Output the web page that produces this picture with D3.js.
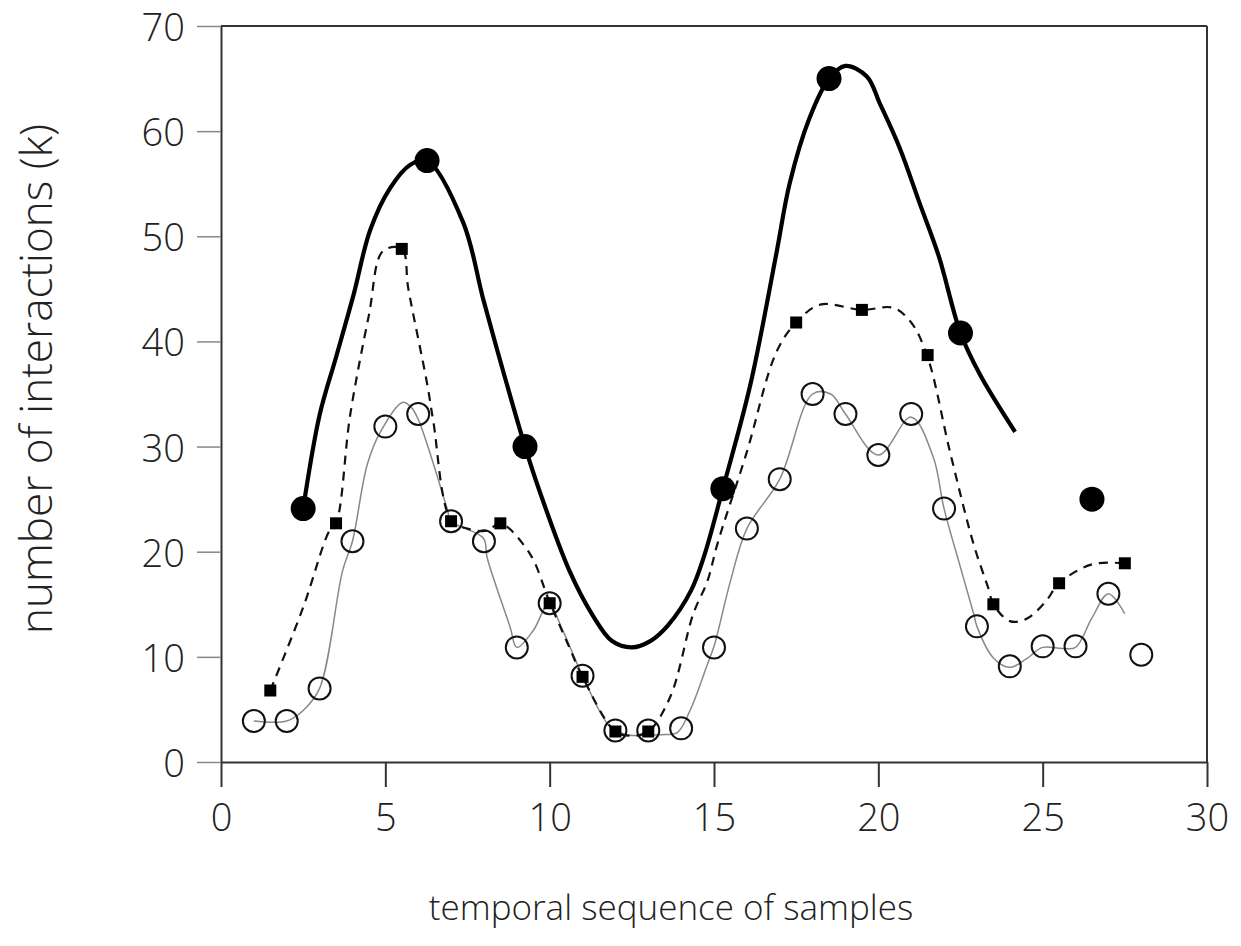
<!DOCTYPE html>
<html lang="en">
  <head>
    <meta charset="UTF-8" />
    <title>Interactions over samples</title>
    <script src="https://d3js.org/d3.v7.min.js"></script>
    <style>
      body {
        margin: 0;
        background: #fff;
        font-family: "Open Sans", "DejaVu Sans", sans-serif;
      }
      .axis text {
        font-family: "Open Sans", sans-serif;
        font-size: 38px;
        font-weight: 300;
        fill: #222;
      }
      .axis-title {
        font-family: "Open Sans", sans-serif;
        font-weight: 300;
        fill: #222;
      }
    </style>
  </head>
  <body>
    <svg id="chart" width="1241" height="946"></svg>

    <script>
      // ---------------------------------------------------------------
      // data
      // ---------------------------------------------------------------

      // open circles: one per sample
      const sampleX = d3.range(1, 29);
      const sampleY = [
        3.9, 3.9, 7.0, 21.0, 31.9, 33.1, 22.9, 21.0, 10.9, 15.1, 8.2, 3.0, 3.0, 3.2,
        10.9, 22.2, 26.9, 35.0, 33.1, 29.2, 33.1, 24.1, 12.9, 9.1, 11.0, 11.0, 16.0, 10.2,
      ];

      // thin grey line under the open circles
      const thinX = [1, 2, 2.5, 3, 3.7, 4, 4.45, 4.85, 5.52, 5.77, 6, 6.88, 7, 7.98, 8.1, 8.8, 9, 9.5, 9.97, 10.4, 11, 11.85, 12.35, 13.4, 13.88, 14.27, 14.8, 15, 15.5, 16, 17, 18, 18.55, 19, 20, 21, 21.67, 22, 22.5, 22.9, 23, 23.5, 24, 24.5, 25, 25.6, 26, 26.5, 27, 27.5];
      const thinY = [3.9, 3.9, 4.9, 7.0, 18.2, 21.0, 28.3, 31.4, 34.2, 33.8, 32.6, 24.1, 22.9, 21.3, 19.4, 12.8, 10.9, 12.5, 15.0, 12.5, 8.2, 3.3, 2.6, 2.6, 2.8, 4.9, 9.3, 11.0, 17.2, 22.2, 26.9, 35.0, 35.0, 33.1, 29.2, 32.8, 29.0, 24.1, 18.5, 14.1, 12.9, 9.9, 9.0, 9.8, 10.9, 10.8, 10.9, 13.7, 16.0, 14.1];

      // dashed line and its square markers
      const dashX = [1.5, 2.5, 3.3, 3.5, 3.93, 4.5, 4.93, 5.5, 5.7, 6.27, 6.46, 7, 7.5, 8.1, 8.5, 9.4, 9.9, 10, 10.6, 11, 12, 12.5, 13, 13.67, 14.37, 14.8, 15.1, 16, 16.9, 17.5, 18.23, 19.5, 20.45, 21, 21.5, 22.18, 22.9, 23.35, 23.5, 24, 24.5, 25.1, 25.5, 26.5, 27.5];
      const dashY = [6.8, 14.7, 22.0, 22.7, 33.0, 42.5, 48.6, 48.8, 45.0, 36.0, 32.4, 23.0, 22.2, 22.0, 22.7, 19.8, 16.0, 15.2, 10.9, 8.1, 2.9, 2.5, 2.9, 6.2, 14.1, 17.2, 20.7, 29.5, 39.0, 41.8, 43.5, 43.0, 43.2, 41.8, 38.5, 29.5, 20.7, 16.5, 15.0, 13.4, 13.6, 15.3, 17.0, 18.8, 18.9];
      const squareX = [1.5, 3.5, 5.5, 7, 8.5, 10, 11, 12, 13, 17.5, 19.5, 21.5, 23.5, 25.5, 27.5];
      const squareY = [6.8, 22.7, 48.8, 22.9, 22.7, 15.1, 8.1, 2.9, 2.9, 41.8, 43.0, 38.7, 15.0, 17.0, 18.9];

      // thick black line and its filled circles
      const boldX = [2.5, 3, 3.5, 4.03, 4.54, 5.15, 5.76, 6.27, 7.37, 7.98, 8.6, 9.25, 9.7, 10.6, 11.3, 11.9, 12.5, 13.06, 13.6, 14.3, 14.7, 15.27, 16.1, 16.9, 17.3, 17.9, 18.5, 19, 19.65, 20.05, 20.65, 21.25, 21.85, 22.5, 23.1, 24.16];
      const boldY = [24.1, 33.0, 38.5, 44.4, 50.6, 54.6, 56.8, 57.2, 51.3, 44.0, 37.0, 30.0, 25.7, 18.2, 14.0, 11.5, 10.9, 11.5, 13.0, 16.3, 19.6, 26.0, 35.8, 48.4, 55.0, 61.2, 65.0, 66.2, 65.2, 62.6, 58.4, 53.2, 48.0, 40.8, 36.8, 31.4];
      const dotX = [2.5, 6.27, 9.25, 15.27, 18.5, 22.5, 26.5];
      const dotY = [24.1, 57.2, 30.0, 26.0, 65.0, 40.8, 25.0];

      const xTicks = [0, 5, 10, 15, 20, 25, 30];
      const yTicks = [0, 10, 20, 30, 40, 50, 60, 70];

      // ---------------------------------------------------------------
      // layout
      // ---------------------------------------------------------------
      const svg = d3.select("#chart");
      const margin = { top: 26, right: 34, bottom: 184, left: 221 };
      const width = +svg.attr("width");
      const height = +svg.attr("height");
      const innerW = width - margin.left - margin.right;
      const innerH = height - margin.top - margin.bottom;

      const x = d3.scaleLinear().domain([0, 30]).range([0, innerW]);
      const y = d3.scaleLinear().domain([0, 70]).range([innerH, 0]);

      const g = svg
        .append("g")
        .attr("transform", `translate(${margin.left},${margin.top})`);

      const zip = (xs, ys) => xs.map((v, i) => [v, ys[i]]);

      // frame: top and right
      g.append("line")
        .attr("x1", 0).attr("x2", innerW)
        .attr("y1", 0).attr("y2", 0)
        .attr("stroke", "#333").attr("stroke-width", 2);
      g.append("line")
        .attr("x1", innerW).attr("x2", innerW)
        .attr("y1", 0).attr("y2", innerH)
        .attr("stroke", "#333").attr("stroke-width", 2);

      // axes
      const xAxis = g
        .append("g")
        .attr("class", "axis")
        .attr("transform", `translate(0,${innerH})`)
        .call(d3.axisBottom(x).tickValues(xTicks).tickSize(25).tickSizeOuter(0).tickPadding(17));
      xAxis.selectAll("path, line").attr("stroke", "#333").attr("stroke-width", 2);

      const yAxis = g
        .append("g")
        .attr("class", "axis")
        .call(d3.axisLeft(y).tickValues(yTicks).tickSize(24).tickSizeOuter(0).tickPadding(12));
      yAxis.select("path").attr("stroke", "#333").attr("stroke-width", 2);
      yAxis.selectAll("line").attr("stroke", "#888").attr("stroke-width", 1.5);
      yAxis.selectAll("text").attr("dy", "0.38em");

      // axis titles
      svg.append("text")
        .attr("class", "axis-title")
        .attr("x", 671)
        .attr("y", 920)
        .attr("text-anchor", "middle")
        .style("font-size", "35px")
        .text("temporal sequence of samples");

      svg.append("text")
        .attr("class", "axis-title")
        .attr("transform", "translate(52,379) rotate(-90)")
        .attr("text-anchor", "middle")
        .style("font-size", "44px")
        .text("number of interactions (k)");

      // ---------------------------------------------------------------
      // lines
      // ---------------------------------------------------------------
      const line = d3
        .line()
        .x((d) => x(d[0]))
        .y((d) => y(d[1]))
        .curve(d3.curveCatmullRom.alpha(0.5));

      g.append("path")
        .datum(zip(thinX, thinY))
        .attr("fill", "none")
        .attr("stroke", "#888")
        .attr("stroke-width", 1.5)
        .attr("d", line);

      g.append("path")
        .datum(zip(dashX, dashY))
        .attr("fill", "none")
        .attr("stroke", "#111")
        .attr("stroke-width", 2.2)
        .attr("stroke-dasharray", "9,7")
        .attr("d", line);

      g.append("path")
        .datum(zip(boldX, boldY))
        .attr("fill", "none")
        .attr("stroke", "#000")
        .attr("stroke-width", 4.2)
        .attr("stroke-linejoin", "round")
        .attr("d", line);

      // ---------------------------------------------------------------
      // markers
      // ---------------------------------------------------------------
      g.selectAll(".square")
        .data(zip(squareX, squareY))
        .join("rect")
        .attr("class", "square")
        .attr("x", (d) => x(d[0]) - 6)
        .attr("y", (d) => y(d[1]) - 6)
        .attr("width", 12)
        .attr("height", 12)
        .attr("fill", "#000");

      g.selectAll(".ring")
        .data(zip(sampleX, sampleY))
        .join("circle")
        .attr("class", "ring")
        .attr("cx", (d) => x(d[0]))
        .attr("cy", (d) => y(d[1]))
        .attr("r", 11)
        .attr("fill", "none")
        .attr("stroke", "#111")
        .attr("stroke-width", 2);

      g.selectAll(".dot")
        .data(zip(dotX, dotY))
        .join("circle")
        .attr("class", "dot")
        .attr("cx", (d) => x(d[0]))
        .attr("cy", (d) => y(d[1]))
        .attr("r", 12.5)
        .attr("fill", "#000");
    </script>
  </body>
</html>
